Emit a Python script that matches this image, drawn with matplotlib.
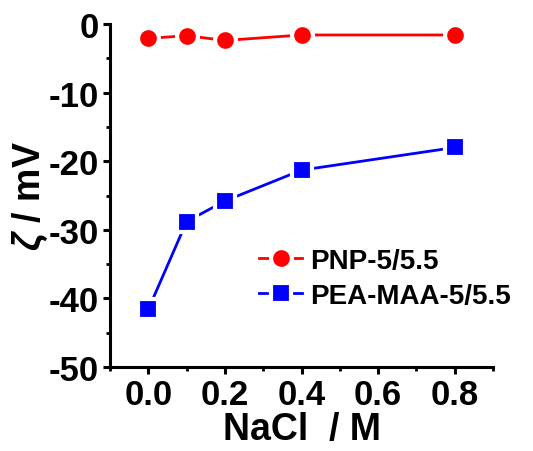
import matplotlib.pyplot as plt
from matplotlib.ticker import MultipleLocator

plt.rcParams['font.family'] = ['Liberation Sans', 'DejaVu Sans']
plt.rcParams['font.weight'] = 'bold'
plt.rcParams['axes.unicode_minus'] = False
plt.rcParams['mathtext.fontset'] = 'custom'
plt.rcParams['mathtext.it'] = 'Liberation Sans:italic:bold'
plt.rcParams['mathtext.rm'] = 'Liberation Sans:bold'

# zeta potential vs salt concentration
nacl = [0.0, 0.1, 0.2, 0.4, 0.8]
zeta_pnp = [-2.1, -1.7, -2.4, -1.6, -1.6]
zeta_peamaa = [-41.6, -28.8, -25.8, -21.3, -18.0]
labels = ['PNP-5/5.5', 'PEA-MAA-5/5.5']

fig = plt.figure(figsize=(5.33, 4.52), dpi=100)
ax = fig.add_axes([0.2064, 0.1858, 0.7186, 0.7589])

ax.plot(nacl, zeta_pnp, color='red', lw=2, marker='o', ms=15,
        mfc='red', mec='white', mew=3, label=labels[0], clip_on=False)
ax.plot(nacl, zeta_peamaa, color='blue', lw=2, marker='s', ms=14,
        mfc='blue', mec='white', mew=3, label=labels[1], clip_on=False)

ax.set_xlim(-0.1, 0.9)
ax.set_ylim(-50, 0)
ax.xaxis.set_minor_locator(MultipleLocator(0.1))
ax.yaxis.set_major_locator(MultipleLocator(10))
ax.yaxis.set_minor_locator(MultipleLocator(5))
ax.set_xticks([0.0, 0.2, 0.4, 0.6, 0.8])
ax.set_xticklabels(['0.0', '0.2', '0.4', '0.6', '0.8'])

for side in ['top', 'right']:
    ax.spines[side].set_visible(False)
for side in ['left', 'bottom']:
    ax.spines[side].set_linewidth(2.2)

ax.tick_params(which='major', direction='out', length=5, width=2.2,
               labelsize=25, pad=3)
ax.tick_params(which='minor', direction='out', length=3, width=2)

ax.set_xlabel('NaCl  / M', fontsize=27, fontweight='bold', labelpad=0)
ax.set_ylabel(r'$\zeta$ / mV', fontsize=27, fontweight='bold', labelpad=-1)

ax.legend(loc='upper left', bbox_to_anchor=(0.36, 0.38), frameon=False,
          fontsize=20, handlelength=1.55, handletextpad=0.3, labelspacing=0.32,
          borderaxespad=0)

fig.savefig('out.png', dpi=100)
